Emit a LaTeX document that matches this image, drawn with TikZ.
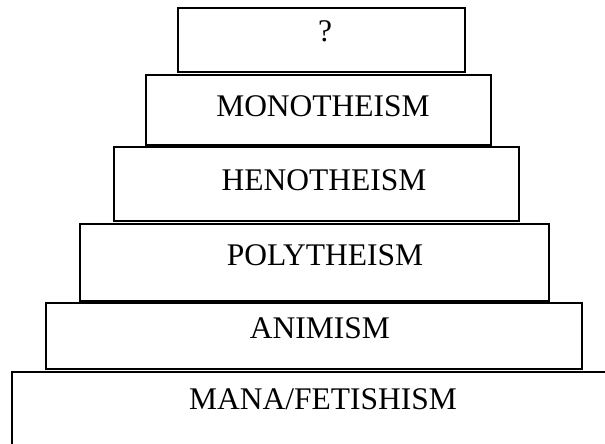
\documentclass[tikz,border=0pt]{standalone}
\usepackage{fontspec}
\setmainfont{Liberation Serif}
\begin{document}
\begin{tikzpicture}[x=1pt,y=-1pt,
  tier/.style={draw=black,line width=1.6pt},
  lbl/.style={anchor=base,inner sep=0pt,font=\fontsize{31.5}{36}\selectfont}]
\useasboundingbox (0,0) rectangle (605,444);
\fill[white] (0,0) rectangle (605,444);
% boxes
\draw[tier] (178,8) rectangle (465,72);
\draw[tier] (146,75) rectangle (491,145);
\draw[tier] (114,147) rectangle (519,221);
\draw[tier] (80,224) rectangle (549,301);
\draw[tier] (46,303) rectangle (582,369);
\draw[tier] (12,444) -- (12,372) -- (606,372);
% labels
\node[lbl] (q) at (325,42) {?};
\node[lbl] (mono) at (323,116) {MONOTHEISM};
\node[lbl] (heno) at (324,190) {HENOTHEISM};
\node[lbl] (poly) at (325,265) {POLYTHEISM};
\node[lbl] (anim) at (320,338) {ANIMISM};
\node[lbl] (mana) at (323,409) {MANA/FETISHISM};
\end{tikzpicture}
\end{document}
